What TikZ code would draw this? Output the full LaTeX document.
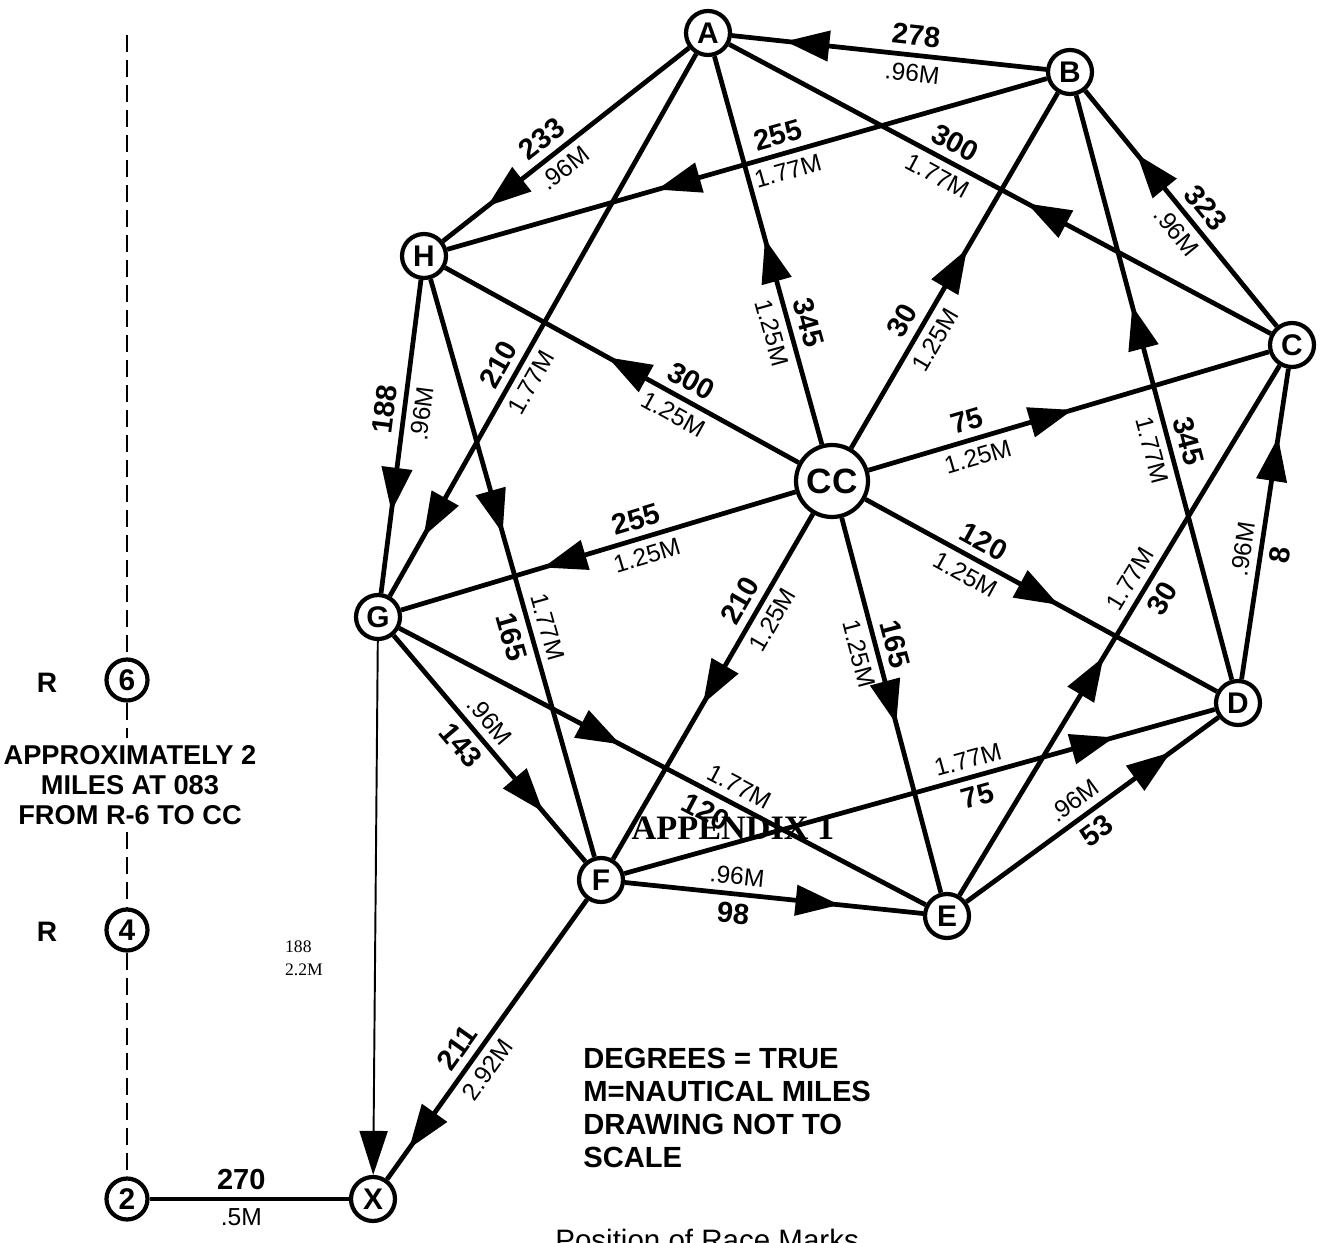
\documentclass[tikz,border=0pt]{standalone}
\usepackage{fontspec}
\setmainfont{Liberation Sans}
\newfontfamily\timesfont{Liberation Serif}
\usetikzlibrary{arrows.meta,decorations.markings}

\begin{document}
\begin{tikzpicture}[x=0.02cm, y=-0.02cm,
    stn/.style={circle, draw, fill=white, line width=2.4pt, minimum size=0.88cm, inner sep=0pt,
        font=\bfseries\fontsize{17}{17}\selectfont},
    hub/.style={stn, minimum size=1.44cm, font=\bfseries\fontsize{20}{20}\selectfont},
    leg/.style={line width=2.7pt},
    flow/.style={postaction={decorate}, decoration={markings,
        mark=at position #1 with {\arrow{Triangle[length=0.88cm,width=0.6cm]}}}},
    deg/.style={sloped, inner sep=4pt, font=\bfseries\fontsize{16.5}{16.5}\selectfont},
    dist/.style={sloped, inner sep=4pt, font=\fontsize{14}{14}\selectfont},
    course/.style={line width=1.4pt, dash pattern=on 0.34cm off 0.16cm}]
    \useasboundingbox (0,0) rectangle (1322,1243);

    % Marks
    \node[stn] (A) at (708,33) {A};
    \node[stn] (B) at (1070,72) {B};
    \node[stn] (C) at (1292,345) {C};
    \node[stn] (D) at (1238,703) {D};
    \node[stn] (E) at (947,916) {E};
    \node[stn] (F) at (601,880) {F};
    \node[stn] (G) at (378,617) {G};
    \node[stn] (H) at (424,256) {H};
    \node[hub] (CC) at (832,481) {CC};
    \node[stn] (X) at (373,1199) {X};

    % Outer ring
    \draw[leg, flow=0.83] (B) -- (A) node[deg,pos=0.42,above] {278} node[dist,pos=0.42,below] {.96M};
    \draw[leg, flow=0.82] (A) -- (H) node[deg,pos=0.55,above] {233} node[dist,pos=0.55,below] {.96M};
    \draw[leg, flow=0.74] (H) -- (G) node[deg,pos=0.42,above] {188} node[dist,pos=0.42,below] {.96M};
    \draw[leg, flow=0.78] (G) -- (F) node[dist,pos=0.43,above] {.96M} node[deg,pos=0.43,below] {143};
    \draw[leg, flow=0.72] (F) -- (E) node[dist,pos=0.37,above] {.96M} node[deg,pos=0.37,below] {98};
    \draw[leg, flow=0.81] (E) -- (D) node[dist,pos=0.47,above] {.96M} node[deg,pos=0.47,below] {53};
    \draw[leg, flow=0.78] (D) -- (C) node[dist,pos=0.41,above] {.96M} node[deg,pos=0.41,below] {8};
    \draw[leg, flow=0.73] (C) -- (B) node[deg,pos=0.45,above] {323} node[dist,pos=0.45,below] {.96M};

    % Spokes from CC
    \draw[leg, flow=0.53] (CC) -- (A) node[deg,pos=0.30,above] {345} node[dist,pos=0.30,below] {1.25M};
    \draw[leg, flow=0.56] (CC) -- (B) node[deg,pos=0.33,above] {30} node[dist,pos=0.33,below] {1.25M};
    \draw[leg, flow=0.51] (CC) -- (C) node[deg,pos=0.26,above] {75} node[dist,pos=0.26,below] {1.25M};
    \draw[leg, flow=0.55] (CC) -- (D) node[deg,pos=0.31,above] {120} node[dist,pos=0.31,below] {1.25M};
    \draw[leg, flow=0.55] (CC) -- (E) node[deg,pos=0.35,above] {165} node[dist,pos=0.35,below] {1.25M};
    \draw[leg, flow=0.55] (CC) -- (F) node[deg,pos=0.28,above] {210} node[dist,pos=0.28,below] {1.25M};
    \draw[leg, flow=0.64] (CC) -- (G) node[deg,pos=0.39,above] {255} node[dist,pos=0.39,below] {1.25M};
    \draw[leg, flow=0.54] (CC) -- (H) node[deg,pos=0.33,above] {300} node[dist,pos=0.33,below] {1.25M};

    % Long legs
    \draw[leg, flow=0.65] (B) -- (H) node[deg,pos=0.44,above] {255} node[dist,pos=0.44,below] {1.77M};
    \draw[leg, flow=0.45] (C) -- (A) node[deg,pos=0.60,above] {300} node[dist,pos=0.60,below] {1.77M};
    \draw[leg, flow=0.89] (A) -- (G) node[deg,pos=0.59,above] {210} node[dist,pos=0.59,below] {1.77M};
    \draw[leg, flow=0.44] (H) -- (F) node[dist,pos=0.61,above] {1.77M} node[deg,pos=0.61,below] {165};
    \draw[leg, flow=0.42] (G) -- (E) node[dist,pos=0.63,above] {1.77M} node[deg,pos=0.60,below] {120};
    \draw[leg, flow=0.83] (F) -- (D) node[dist,pos=0.59,above] {1.77M} node[deg,pos=0.59,below] {75};
    \draw[leg, flow=0.45] (E) -- (C) node[dist,pos=0.58,above] {1.77M} node[deg,pos=0.58,below] {30};
    \draw[leg, flow=0.64] (D) -- (B) node[deg,pos=0.40,above] {345} node[dist,pos=0.40,below] {1.77M};

    % Start line and X
    \node[stn, minimum size=0.82cm] (r6) at (127,680) {6};
    \node[stn, minimum size=0.82cm] (r4) at (127,930) {4};
    \node[stn, minimum size=0.82cm] (r2) at (127,1199) {2};
    \node[font=\bfseries\fontsize{16}{16}\selectfont] (r6lbl) at (47,683) {R};
    \node[font=\bfseries\fontsize{16}{16}\selectfont] (r4lbl) at (47,932) {R};
    \node[align=center, inner sep=4pt, font=\bfseries\fontsize{15.5}{17}\selectfont] (note) at (130,785)
        {APPROXIMATELY 2\\MILES AT 083\\FROM R-6 TO CC};
    \coordinate (top) at (127,35);
    \draw[course] (top) -- (r6);
    \draw[course] (r6) -- (r6 |- note.north);
    \draw[course] (r4 |- note.south) -- (r4);
    \draw[course] (r4) -- (r2);

    \draw[leg, flow=0.89] (F) -- (X) node[deg,pos=0.57,above] {211} node[dist,pos=0.57,below] {2.92M};
    \draw[line width=1.1pt, -{Triangle[length=0.88cm,width=0.56cm]}] (G) -- (X);
    \node[align=left, font=\timesfont\fontsize{10}{13}\selectfont] (gx) at (304,958) {188\\2.2M};
    \draw[leg] (r2) -- (X) node[deg,pos=0.46,above] {270} node[dist,pos=0.46,below] {.5M};

    % Notes
    \node[font=\timesfont\bfseries\fontsize{19.5}{20}\selectfont] (app) at (733,828) {APPENDIX 1};
    \node[anchor=north west, align=left, inner sep=0pt, font=\bfseries\fontsize{16.6}{18.7}\selectfont] (key) at (583,1048)
        {DEGREES = TRUE\\M=NAUTICAL MILES\\DRAWING NOT TO\\SCALE};
    \node[anchor=base west, inner sep=0pt, font=\fontsize{16.8}{17}\selectfont] (title) at (555,1250) {Position of Race Marks};
\end{tikzpicture}
\end{document}
